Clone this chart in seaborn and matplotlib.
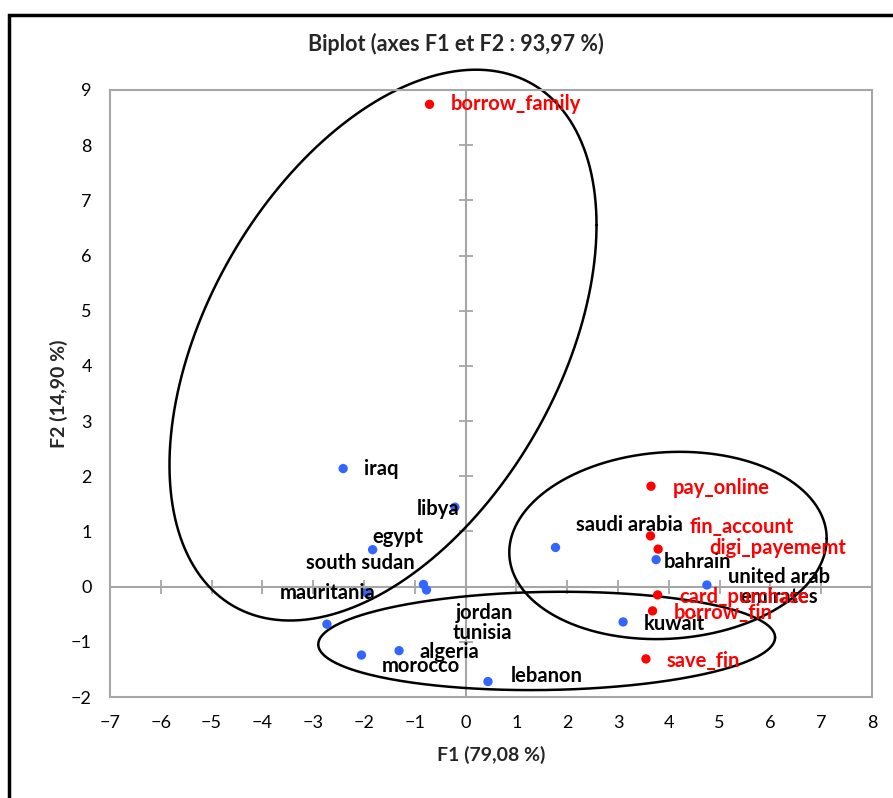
import numpy as np
import matplotlib
matplotlib.use("Agg")
import matplotlib.pyplot as plt
import seaborn as sns

# observations (countries) on F1 / F2
countries = ["iraq", "libya", "egypt", "south sudan", "mauritania", "jordan",
             "tunisia", "algeria", "morocco", "lebanon", "saudi arabia",
             "bahrain", "united arab\nemirates", "kuwait"]
f1_obs = [-2.41, -0.21, -1.83, -1.95, -2.73, -0.83, -0.77, -1.31, -2.05, 0.44,
          1.77, 3.75, 4.75, 3.10]
f2_obs = [2.14, 1.44, 0.67, -0.11, -0.68, 0.04, -0.06, -1.16, -1.24, -1.72,
          0.71, 0.49, 0.03, -0.64]

# variables
variables = ["borrow_family", "pay_online", "fin_account", "digi_payememt",
             "card_purchase", "borrow_fin", "save_fin"]
f1_var = [-0.71, 3.65, 3.64, 3.79, 3.78, 3.68, 3.55]
f2_var = [8.74, 1.82, 0.92, 0.68, -0.15, -0.44, -1.31]

x_ticks = list(range(-7, 9))
y_ticks = list(range(-2, 10))

# label offsets in pixels (right, down) from each point
obs_off = {"iraq": (21, 0), "libya": (-38, 2), "egypt": (0, -13),
           "south sudan": (-61, -30), "mauritania": (-47, -31),
           "jordan": (32, 29), "tunisia": (26, 43), "algeria": (20, 1),
           "morocco": (20, 11), "lebanon": (23, -6), "saudi arabia": (20, -22),
           "bahrain": (8, 2), "united arab\nemirates": (72, 2), "kuwait": (21, 2)}
var_off = {"borrow_family": (21, 0), "pay_online": (22, 2), "fin_account": (39, -9),
           "digi_payememt": (51, -1), "card_purchase": (22, 2),
           "borrow_fin": (21, 2), "save_fin": (21, 2)}

# group ellipses: centre x, centre y, half width, half height, phase
ellipses = [(-1.626, 4.377, 4.203, 4.991, np.arccos(0.4356)),
            (3.984, 0.746, 3.124, 1.697, np.arccos(0.074)),
            (1.596, -0.984, 4.496, 0.891, np.arccos(0.071))]

sns.set_style("white")
plt.rcParams["font.family"] = ["Lato", "DejaVu Sans"]

fig = plt.figure(figsize=(8.93, 7.98), dpi=100)
ax = fig.add_axes([110 / 893, 1 - 697 / 798, 762 / 893, 607 / 798])

grey = "#a6a6a6"
ax.axhline(0, color=grey, lw=1.5, zorder=1)
ax.axvline(0, color=grey, lw=1.5, zorder=1)
ax.plot(x_ticks, [0] * len(x_ticks), ls="", marker="|", ms=10, mew=1.3, color=grey, zorder=1)
ax.plot([0] * len(y_ticks), y_ticks, ls="", marker="_", ms=10, mew=1.3, color=grey, zorder=1)

sns.scatterplot(x=f1_obs, y=f2_obs, color="#3366ff", s=45, edgecolor="none", ax=ax, zorder=3)
sns.scatterplot(x=f1_var, y=f2_var, color="#ff0000", s=45, edgecolor="none", ax=ax, zorder=3)

for name, x, y in zip(countries, f1_obs, f2_obs):
    dx, dy = obs_off[name]
    ha = "center" if "\n" in name else "left"
    ax.annotate(name, (x, y), xytext=(dx, -dy), textcoords="offset pixels",
                ha=ha, va="center", fontsize=14.5, fontweight="bold",
                color="black", linespacing=1.0, zorder=4)
for name, x, y in zip(variables, f1_var, f2_var):
    dx, dy = var_off[name]
    ax.annotate(name, (x, y), xytext=(dx, -dy), textcoords="offset pixels",
                ha="left", va="center", fontsize=14.5, fontweight="bold",
                color="#ff0000", zorder=4)

t = np.linspace(0, 2 * np.pi, 400)
for cx, cy, a, b, phi in ellipses:
    ax.plot(cx + a * np.cos(t), cy + b * np.cos(t - phi), color="black",
            lw=1.8, zorder=2, clip_on=False)

ax.set_xlim(-7, 8)
ax.set_ylim(-2, 9)
ax.set_xticks(x_ticks)
ax.set_yticks(y_ticks)
ax.tick_params(length=0, labelsize=13, pad=13, colors="black")
for s in ax.spines.values():
    s.set_color(grey)
    s.set_linewidth(1.5)

ax.set_xlabel("F1 (79,08 %)", fontsize=14, fontweight="bold", labelpad=11)
ax.set_ylabel("F2 (14,90 %)", fontsize=14, fontweight="bold", labelpad=2)
fig.text(456 / 893, 1 - 44 / 798, "Biplot (axes F1 et F2 : 93,97 %)",
         ha="center", va="center", fontsize=15.5, fontweight="bold")

# outer chart frame
fig.patches.append(plt.Rectangle((9 / 893, -0.1), 1.2, 1 - 15 / 798 + 0.1,
                                 transform=fig.transFigure, fill=False,
                                 edgecolor="black", lw=2.5))

fig.savefig("out.png", dpi=100)
